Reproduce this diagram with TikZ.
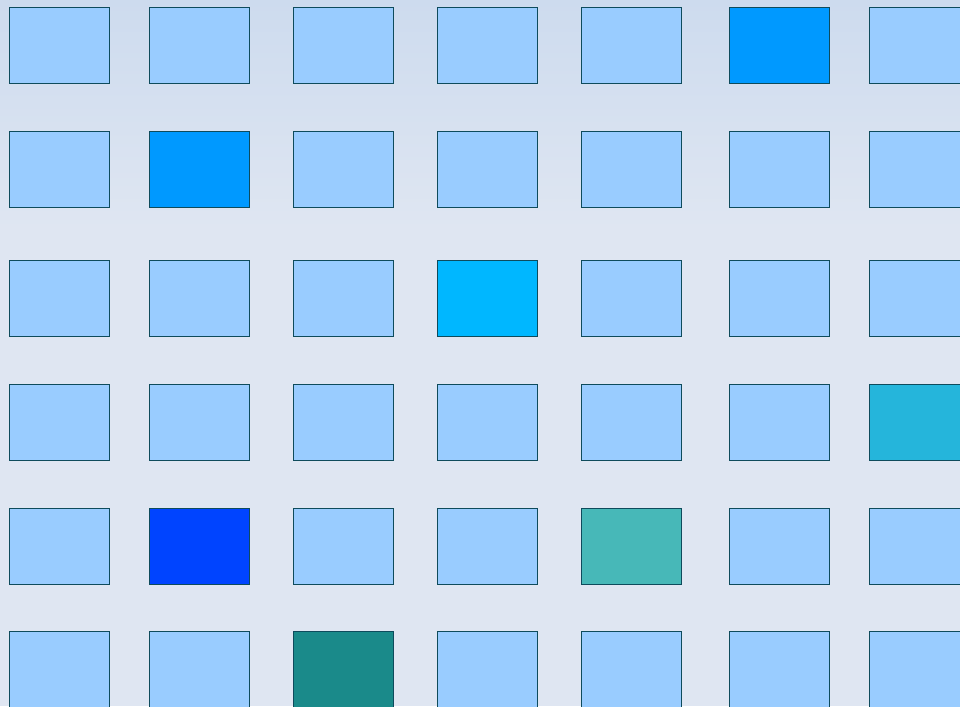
\documentclass[tikz,border=0pt]{standalone}
\usetikzlibrary{positioning}
\definecolor{bgtop}{HTML}{CDDBEE}
\definecolor{bgbot}{HTML}{DFE6F2}
\definecolor{edge}{HTML}{0E4B5C}
\definecolor{light}{HTML}{99CCFF}
\definecolor{mid}{HTML}{0099FF}
\definecolor{sky}{HTML}{00B7FF}
\definecolor{cyanish}{HTML}{25B5DB}
\definecolor{royal}{HTML}{0044FF}
\definecolor{teal1}{HTML}{47B8B8}
\definecolor{teal2}{HTML}{1A8A8A}
\tikzset{
  cell/.style={draw=edge, line width=0.9pt, fill=light, anchor=north west,
    minimum width=100pt, minimum height=76pt, inner sep=0pt, outer sep=0pt}
}
\begin{document}
\begin{tikzpicture}[x=1pt,y=-1pt]
\useasboundingbox (0,0) rectangle (960,706);
\fill[bgbot] (0,0) rectangle (960,706);
\shade[top color=bgtop, bottom color=bgbot] (0,0) rectangle (960,230);
\foreach \r/\yy in {0/7,1/131,2/260,3/384,4/508,5/631}{
  \foreach \c/\xx in {0/9,1/149,2/293,3/437,4/581,5/729,6/869}{
    \pgfmathtruncatemacro{\k}{\r*10+\c}
    \ifnum\k=5 \def\fc{mid}\else
    \ifnum\k=11 \def\fc{mid}\else
    \ifnum\k=23 \def\fc{sky}\else
    \ifnum\k=36 \def\fc{cyanish}\else
    \ifnum\k=41 \def\fc{royal}\else
    \ifnum\k=44 \def\fc{teal1}\else
    \ifnum\k=52 \def\fc{teal2}\else
    \def\fc{light}\fi\fi\fi\fi\fi\fi\fi
    \node[cell, fill=\fc] (r\r c\c) at (\xx,\yy) {};
  }
}
\end{tikzpicture}
\end{document}
